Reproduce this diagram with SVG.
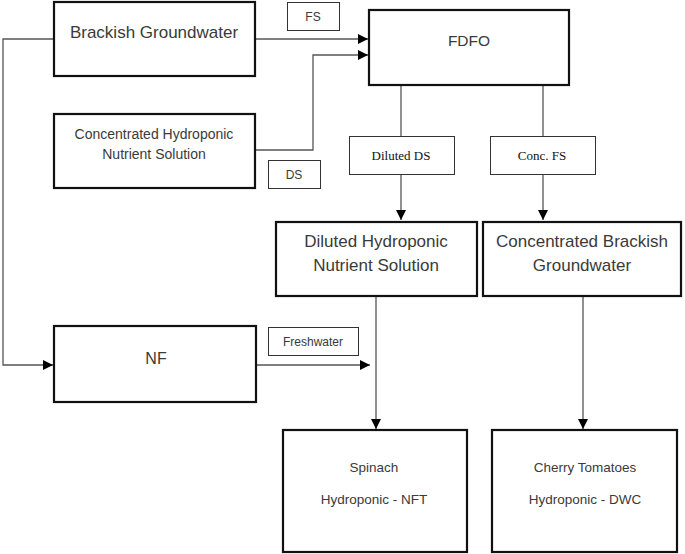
<svg xmlns="http://www.w3.org/2000/svg" width="685" height="554" viewBox="0 0 685 554">
<defs>
<marker id="arr" viewBox="0 0 10 10" refX="10" refY="5" markerWidth="10" markerHeight="10" markerUnits="userSpaceOnUse" orient="auto">
<path d="M0,0 L10,5 L0,10 Z" fill="#000"/>
</marker>
</defs>
<style>
.box{fill:#fff;stroke:#111;stroke-width:2.2}
.lbl{fill:#fff;stroke:#333;stroke-width:1}
.t{font-family:"Liberation Sans",Arial,sans-serif;fill:#3a3a3a;text-anchor:middle}
.s{font-family:"Liberation Serif","Times New Roman",serif;fill:#111;text-anchor:middle;font-size:13px}
.c{fill:none;stroke:#555;stroke-width:1.3}
</style>
<rect width="685" height="554" fill="#fff"/>
<g id="connectors">
<path class="c" d="M255,39 H368" marker-end="url(#arr)"/>
<path class="c" d="M255,150 H313 V55 H368" marker-end="url(#arr)"/>
<path class="c" d="M54,39 H3 V365 H53" marker-end="url(#arr)"/>
<path class="c" d="M401,86 V136"/>
<path class="c" d="M401,174 V220" marker-end="url(#arr)"/>
<path class="c" d="M543,86 V136"/>
<path class="c" d="M543,174 V220" marker-end="url(#arr)"/>
<path class="c" d="M256,365 H370" marker-end="url(#arr)"/>
<path class="c" d="M376,297 V429" marker-end="url(#arr)"/>
<path class="c" d="M583,297 V429" marker-end="url(#arr)"/>
</g>
<g id="brackish">
<rect class="box" x="54" y="2" width="201" height="74"/>
<text class="t" x="154" y="38" font-size="17">Brackish Groundwater</text>
</g>
<g id="fs-label">
<rect class="lbl" x="287.500" y="2.500" width="52" height="28"/>
<text class="t" x="313" y="21" font-size="12">FS</text>
</g>
<g id="fdfo">
<rect class="box" x="369" y="10" width="200" height="75"/>
<text class="t" x="469" y="46" font-size="15.500">FDFO</text>
</g>
<g id="conc-hydro">
<rect class="box" x="54" y="114" width="201" height="74"/>
<text class="t" x="154" y="139" font-size="14">Concentrated Hydroponic</text>
<text class="t" x="154" y="159" font-size="14">Nutrient Solution</text>
</g>
<g id="ds-label">
<rect class="lbl" x="268.500" y="160.500" width="52" height="28"/>
<text class="t" x="294" y="179" font-size="12">DS</text>
</g>
<g id="diluted-ds">
<rect class="lbl" x="349.500" y="136.500" width="105" height="38"/>
<text class="s" x="401" y="160">Diluted DS</text>
</g>
<g id="conc-fs">
<rect class="lbl" x="490.500" y="136.500" width="105" height="38"/>
<text class="s" x="542" y="160">Conc. FS</text>
</g>
<g id="diluted-hydro">
<rect class="box" x="276" y="222" width="201" height="74"/>
<text class="t" x="376" y="247" font-size="17">Diluted Hydroponic</text>
<text class="t" x="376" y="271" font-size="17">Nutrient Solution</text>
</g>
<g id="conc-brackish">
<rect class="box" x="483" y="222" width="198" height="74"/>
<text class="t" x="582" y="247" font-size="17">Concentrated Brackish</text>
<text class="t" x="582" y="271" font-size="17">Groundwater</text>
</g>
<g id="nf">
<rect class="box" x="54" y="326" width="202" height="76"/>
<text class="t" x="156" y="364" font-size="16">NF</text>
</g>
<g id="freshwater-label">
<rect class="lbl" x="268.500" y="327.500" width="90" height="28"/>
<text class="t" x="313" y="346" font-size="12">Freshwater</text>
</g>
<g id="spinach">
<rect class="box" x="283" y="430" width="184" height="122"/>
<text class="t" x="374" y="472" font-size="13.500">Spinach</text>
<text class="t" x="374" y="504" font-size="13.500">Hydroponic - NFT</text>
</g>
<g id="tomatoes">
<rect class="box" x="492" y="430" width="185" height="122"/>
<text class="t" x="585" y="472" font-size="13.500">Cherry Tomatoes</text>
<text class="t" x="585" y="504" font-size="13.500">Hydroponic - DWC</text>
</g>
</svg>
